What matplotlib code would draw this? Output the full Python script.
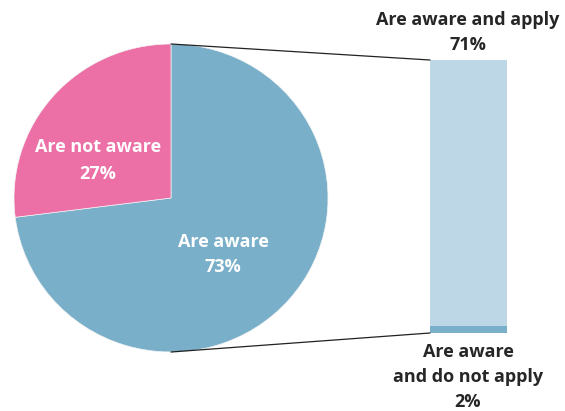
import matplotlib
matplotlib.use("Agg")
import matplotlib.pyplot as plt
from matplotlib.patches import ConnectionPatch

plt.rcParams['font.family'] = ['Open Sans', 'DejaVu Sans']

pie_labels = ["Are aware", "Are not aware"]
pie_values = [73, 27]
bar_labels = ["Are aware and do not apply", "Are aware and apply"]
bar_values = [2, 71]

pie_colors = ["#79afc9", "#ec6fa6"]
bar_colors = ["#79afc9", "#bdd7e6"]
text_dark = "#262626"

W, H = 565, 411
fig = plt.figure(figsize=(W / 100, H / 100), dpi=100)

def fx(x):
    return x / W

def fy(y):
    return 1 - y / H

# Pie axes (pixel box: x 14..328, y 44..352)
axp = fig.add_axes([fx(14), fy(352), (328 - 14) / W, (352 - 44) / H])
axp.pie(pie_values, colors=pie_colors, startangle=90, counterclock=False,
        radius=1, wedgeprops=dict(linewidth=0.5, edgecolor="#f4f4f4"))
axp.set_aspect("auto")
axp.set_xlim(-1, 1)
axp.set_ylim(-1, 1)
axp.axis("off")

# Bar axes (pixel box: x 430..507, y 60..333)
axb = fig.add_axes([fx(430), fy(333), (507 - 430) / W, (333 - 60) / H])
bottom = 0
for v, c in zip(bar_values, bar_colors):
    axb.bar(0, v, bottom=bottom, width=1, color=c, linewidth=0)
    bottom += v
axb.set_xlim(-0.5, 0.5)
axb.set_ylim(0, sum(bar_values))
axb.axis("off")

# Connector lines
for ypie, ybar in [(1, sum(bar_values)), (-1, 0)]:
    con = ConnectionPatch(xyA=(0, ypie), coordsA=axp.transData,
                          xyB=(-0.5, ybar), coordsB=axb.transData,
                          color="#222222", linewidth=0.9)
    fig.add_artist(con)

fs = 13
# Pie labels
fig.text(fx(98), fy(160.5), f"{pie_labels[1]}\n{pie_values[1]}%", color="white",
         fontsize=fs, fontweight="bold", ha="center", va="center", linespacing=1.6)
fig.text(fx(223), fy(254.5), f"{pie_labels[0]}\n{pie_values[0]}%", color="white",
         fontsize=fs, fontweight="bold", ha="center", va="center", linespacing=1.5)

# Bar labels
fig.text(fx(468), fy(32.5), f"{bar_labels[1]}\n{bar_values[1]}%", color=text_dark,
         fontsize=fs, fontweight="bold", ha="center", va="center", linespacing=1.5)
fig.text(fx(468), fy(377), f"Are aware\nand do not apply\n{bar_values[0]}%", color=text_dark,
         fontsize=fs, fontweight="bold", ha="center", va="center", linespacing=1.5)

fig.savefig("out.png", dpi=100)
